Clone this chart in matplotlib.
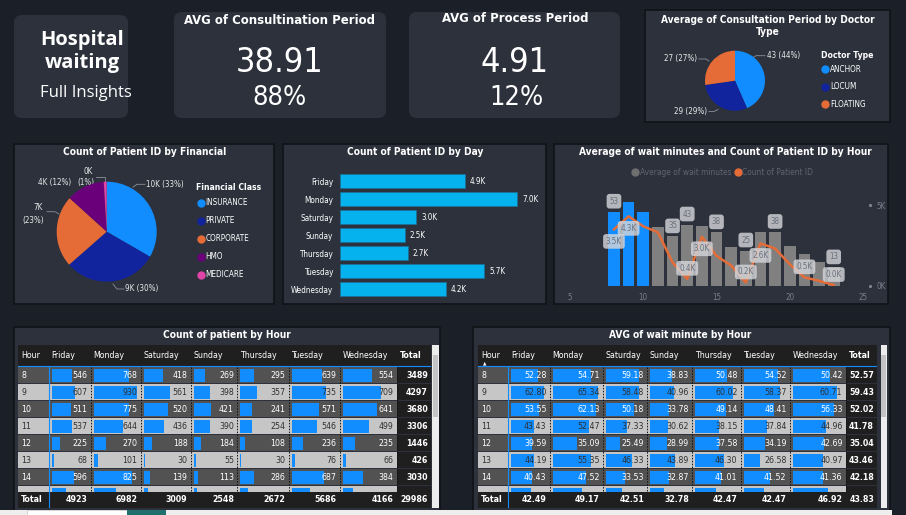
import matplotlib
matplotlib.use("Agg")
import matplotlib.pyplot as plt
from matplotlib.patches import FancyBboxPatch, Rectangle
import matplotlib.transforms as mtransforms

# ---------------- data ----------------
days = ["Friday", "Monday", "Saturday", "Sunday", "Thursday", "Tuesday", "Wednesday"]
day_totals = [4923, 6982, 3009, 2548, 2672, 5686, 4166]
grand_total = 29986

table_hours = [8, 9, 10, 11, 12, 13, 14, 15]
count_rows = [
    [546, 768, 418, 269, 295, 639, 554],
    [607, 930, 561, 398, 357, 735, 709],
    [511, 775, 520, 421, 241, 571, 641],
    [537, 644, 436, 390, 254, 546, 499],
    [225, 270, 188, 184, 108, 236, 235],
    [68, 101, 30, 55, 30, 76, 66],
    [596, 825, 139, 113, 286, 687, 384],
    [370, 486, 95, 80, 165, 400, 200],
]
wait_rows = [
    [52.28, 54.71, 59.18, 38.83, 50.48, 54.52, 50.42],
    [62.80, 65.34, 58.48, 40.96, 60.02, 58.37, 60.71],
    [53.55, 62.13, 50.18, 33.78, 49.14, 48.41, 56.33],
    [43.43, 52.47, 37.33, 30.62, 38.15, 37.84, 44.96],
    [39.59, 35.09, 25.49, 28.99, 37.58, 34.19, 42.69],
    [44.19, 55.35, 46.33, 43.89, 46.30, 26.58, 40.97],
    [40.43, 47.52, 33.53, 32.87, 41.01, 41.52, 41.36],
    [37.6, 42.8, 29.5, 23.7, 34.0, 33.0, 48.6],
]
wait_row_totals = [52.57, 59.43, 52.02, 41.78, 35.04, 43.46, 42.18, 37.9]
wait_col_totals = [42.49, 49.17, 42.51, 32.78, 42.47, 42.47, 46.92]
wait_grand = 43.83

hours = list(range(8, 24))
avg_wait = [52.57, 59.43, 52.02, 41.78, 35.04, 43.46, 42.18, 37.9,
            27.7, 25.0, 38.1, 38.2, 28.2, 22.3, 16.8, 13.0]
patients = [3489, 4297, 3680, 3306, 1446, 426, 3030, 1850,
            1250, 200, 2620, 2300, 1330, 520, 300, 40]
highlight_hours = [8, 9, 10]
bar_label_hours = [8, 12, 13, 15, 17, 19, 23]
line_label_hours = [8, 9, 13, 14, 17, 18, 21, 23]
line_label_side = [-1, -1, 1, -1, 1, -1, 1, 1]

fin_classes = ["INSURANCE", "PRIVATE", "CORPORATE", "HMO", "MEDICARE"]
fin_counts = [10000, 9050, 6950, 3700, 286]

doc_types = ["ANCHOR", "LOCUM", "FLOATING"]
doc_avg = [43, 29, 27]
doc_pct = [44, 29, 27]

# ---------------- style ----------------
W, H = 906, 515
BG = "#1b2028"
CARD = "#2c313c"
EDGE = "#101318"
BLUE = "#118DFF"
NAVY = "#12239E"
ORANGE = "#E66C37"
PURPLE = "#6B007B"
PINK = "#E044A7"
CYAN = "#05B2EE"
DARKROW = "#525252"
LIGHTROW = "#c6c6c6"
BLACK = "#201f1f"
DIM = "#7a808b"
TITLE_FS = 7.3

plt.rcParams["font.family"] = "DejaVu Sans"
plt.rcParams["font.stretch"] = "condensed"

fig = plt.figure(figsize=(W / 100, H / 100), dpi=100, facecolor=BG)
base = fig.add_axes([0, 0, 1, 1])
base.set_xlim(0, W)
base.set_ylim(H, 0)
base.axis("off")


def px_axes(x0, y0, x1, y1):
    ax = fig.add_axes([x0 / W, 1 - y1 / H, (x1 - x0) / W, (y1 - y0) / H])
    ax.patch.set_alpha(0)
    return ax


def card(x0, y0, x1, y1, r=0, ec=EDGE):
    if r:
        p = FancyBboxPatch((x0, y0), x1 - x0, y1 - y0,
                           boxstyle=f"round,pad=0,rounding_size={r}",
                           fc=CARD, ec="none")
    else:
        p = Rectangle((x0, y0), x1 - x0, y1 - y0, fc=CARD, ec=ec, lw=1.2)
    base.add_patch(p)


def txt(x, y, s, size, **kw):
    kw.setdefault("color", "white")
    kw.setdefault("ha", "center")
    kw.setdefault("va", "center")
    base.text(x, y, s, fontsize=size, **kw)


# ---------------- row 1 cards ----------------
card(14, 15, 128, 118, r=8)
txt(82, 40, "Hospital", 14.5, weight="bold", family="Open Sans", stretch="normal")
txt(82, 63, "waiting", 14.5, weight="bold", family="Open Sans", stretch="normal")
txt(86, 93, "Full Insights", 12, family="Open Sans", stretch="normal")

card(174, 12, 386, 118, r=8)
txt(280, 20, "AVG of Consultination Period", 9.4, weight="bold")
txt(280, 63, "38.91", 24.6)
txt(280, 98, "88%", 19.5)

card(409, 12, 620, 118, r=8)
txt(515, 19, "AVG of Process Period", 9.4, weight="bold")
txt(515, 63, "4.91", 24.6)
txt(516, 98, "12%", 19.5)

# doctor type pie
card(645, 10, 890, 122)
txt(768, 20, "Average of Consultation Period by Doctor", TITLE_FS, weight="bold")
txt(768, 32, "Type", TITLE_FS, weight="bold")
ax = px_axes(705, 50.7, 765, 110.7)
ax.pie(doc_avg, colors=[BLUE, NAVY, ORANGE], startangle=90, counterclock=False,
       wedgeprops=dict(linewidth=0))
ax.set_xlim(-1, 1)
ax.set_ylim(-1, 1)
doc_lab_pos = [(767, 55.7, "left"), (707, 111.5, "right"), (697, 59, "right")]
doc_leaders = [[(752, 58), (756, 55.7), (765, 55.7)],
               [(718, 109.5), (714, 111.5), (709, 111.5)],
               [(709, 61), (706, 59), (699, 59)]]
for (x, y, ha), v, p, ld in zip(doc_lab_pos, doc_avg, doc_pct, doc_leaders):
    txt(x, y, f"{v} ({p}%)", 5.8, ha=ha, color="#e8e8e8")
    base.plot(*zip(*ld), color="#8a8f99", lw=0.6)
txt(821, 55, "Doctor Type", 6.2, weight="bold", ha="left")
for i, (name, c) in enumerate(zip(doc_types, [BLUE, NAVY, ORANGE])):
    base.plot(825, 69.3 + i * 17.5, "o", ms=5, color=c)
    txt(830, 69.3 + i * 17.5, name, 5.9, ha="left")

# ---------------- row 2 ----------------
# financial pie
card(14, 144, 274, 304)
txt(145, 152.3, "Count of Patient ID by Financial", TITLE_FS, weight="bold")
fin_colors = [BLUE, NAVY, ORANGE, PURPLE, PINK]
ax = px_axes(56.7, 181.7, 156.7, 281.7)
ax.pie(fin_counts, colors=fin_colors, startangle=90, counterclock=False,
       wedgeprops=dict(linewidth=0))
ax.set_xlim(-1, 1)
ax.set_ylim(-1, 1)
tot = sum(fin_counts)
fk = [f"{v / 1000:.0f}K" for v in fin_counts]
fp = [f"({v / tot * 100:.0f}%)" for v in fin_counts]
lc = "#e8e8e8"
lfs = 5.8
txt(146, 184.3, f"{fk[0]} {fp[0]}", lfs, ha="left", color=lc)
base.plot([133, 137, 145], [187, 184.3, 184.3], color="#8a8f99", lw=0.6)
txt(125, 289, f"{fk[1]} {fp[1]}", lfs, ha="left", color=lc)
base.plot([113, 117, 124], [284, 289, 289], color="#8a8f99", lw=0.6)
txt(38, 207.7, fk[2], lfs, color=lc)
txt(33, 220, fp[2], lfs, color=lc)
base.plot([47, 55, 59], [211.7, 211.7, 214], color="#8a8f99", lw=0.6)
txt(71, 182.7, f"{fk[3]} {fp[3]}", lfs, ha="right", color=lc)
txt(88, 171.7, fk[4], lfs, color=lc)
txt(86, 182.7, fp[4], lfs, color=lc)
base.plot([96, 105, 105], [176.7, 176.7, 181.5], color="#8a8f99", lw=0.6)
txt(196.5, 187.7, "Financial Class", 6.2, weight="bold", ha="left")
for i, (name, c) in enumerate(zip(fin_classes, fin_colors)):
    y = 202.7 + i * 18
    base.plot(200.7, y, "o", ms=5, color=c)
    txt(205.5, y, name, 5.9, ha="left")

# day bar chart
card(283, 144, 546, 304)
txt(415, 152.3, "Count of Patient ID by Day", TITLE_FS, weight="bold")
ax = px_axes(340, 172.3, 540, 298)
ax.barh(range(len(days)), day_totals, height=0.78, color=CYAN,
        edgecolor="#1a6f95", linewidth=0.6)
ax.set_ylim(len(days) - 0.5, -0.5)
ax.set_xlim(0, 7874)
ax.set_yticks(range(len(days)))
ax.set_yticklabels(days, color="white", fontsize=5.9)
ax.tick_params(axis="y", length=0, pad=5)
ax.set_xticks([])
for s in ax.spines.values():
    s.set_visible(False)
for i, v in enumerate(day_totals):
    ax.text(v + 200, i, f"{v / 1000:.1f}K", va="center", ha="left",
            color="white", fontsize=5.8)

# combo chart
card(554, 144, 888, 304)
txt(725, 152.3, "Average of wait minutes and Count of Patient ID by Hour", TITLE_FS, weight="bold")
base.plot(635, 172.3, "o", ms=5, color="#6f6f6f")
txt(640, 172.3, "Average of wait minutes", 6.0, ha="left", color="#5f6570")
base.plot(737.7, 172.3, "o", ms=5, color=ORANGE)
txt(742.5, 172.3, "Count of Patient ID", 6.0, ha="left", color="#5f6570")

ax = px_axes(570, 190, 863, 285.7)
bar_cols = [BLUE if h in highlight_hours else "#808080" for h in hours]
ax.bar(hours, avg_wait, width=0.8, color=bar_cols)
ax.set_xlim(5, 25)
ax.set_ylim(0, 68)
ax.set_xticks([5, 10, 15, 20, 25])
ax.tick_params(axis="x", length=0, colors=DIM, labelsize=5.8, pad=5)
ax.set_yticks([])
for s in ax.spines.values():
    s.set_visible(False)
box = dict(boxstyle="round,pad=0.35,rounding_size=0.35", fc="#d3d5d9", ec="none", alpha=0.82)
for h in bar_label_hours:
    v = avg_wait[hours.index(h)]
    ax.text(h, v + 10.5 / 1.408, f"{v:.0f}", ha="center", va="center",
            fontsize=5.8, color="#6b707a", bbox=box, zorder=4)
ax2 = ax.twinx()
ax2.patch.set_alpha(0)
ax2.plot(hours, patients, color=ORANGE, lw=1.8, zorder=2)
ax2.set_ylim(0, 5930)
ax2.set_yticks([0, 5000])
ax2.set_yticklabels(["0K", "5K"])
ax2.tick_params(axis="y", length=0, colors=DIM, labelsize=5.8, pad=10)
tr = mtransforms.blended_transform_factory(ax2.transAxes, ax2.transData)
ax2.plot([1.025, 1.025], [0, 5000], ls="none", marker="s", ms=1.2, color=DIM,
         transform=tr, clip_on=False)
for s in ax2.spines.values():
    s.set_visible(False)
for h, side in zip(line_label_hours, line_label_side):
    v = patients[hours.index(h)]
    off = 10.5 if side > 0 else -12
    ax2.text(h, v + off * 5930 / 95.7, f"{v / 1000:.1f}K", ha="center", va="center",
             fontsize=5.8, color="#6b707a", bbox=box, zorder=5)


# ---------------- tables ----------------
def draw_table(x_edges, panel, title, title_x, rows, row_tot, col_tot, grand,
               fmt, vmax, scroll, arrow=False):
    card(*panel)
    txt(title_x, 335, title, TITLE_FS, weight="bold")
    ax = px_axes(x_edges[0], 345, x_edges[-1], 508)
    ax.set_xlim(x_edges[0], x_edges[-1])
    ax.set_ylim(508, 345)
    ax.axis("off")
    top, rh, tot_top = 367, 17, 491.5
    fs = 6.3
    # header
    ax.add_patch(Rectangle((x_edges[0], 345), x_edges[-1] - x_edges[0], 21, fc=BLACK, zorder=1))
    heads = ["Hour"] + days + ["Total"]
    for j, hname in enumerate(heads):
        ax.text(x_edges[j] + 3, 355, hname, color="white", fontsize=fs, va="center",
                weight="bold" if hname == "Total" else "normal", zorder=3)
    if arrow:
        ax.text(x_edges[0] + 7, 363.3, "\u25b2", color="white", fontsize=3.5,
                ha="center", va="center", zorder=3)
    # body (last row is only partly visible under the total row)
    for i, (h, row) in enumerate(zip(table_hours, rows)):
        y0 = top + i * rh
        dark = i % 2 == 0
        partial = y0 + rh > tot_top
        tc = "white" if dark else "#303030"
        ax.add_patch(Rectangle((x_edges[0], y0), x_edges[-2] - x_edges[0], rh - 0.7,
                               fc=DARKROW if dark else LIGHTROW, zorder=1))
        ax.add_patch(Rectangle((x_edges[-2], y0), x_edges[-1] - x_edges[-2], rh - 0.7,
                               fc=BLACK, zorder=1))
        for j, v in enumerate(row):
            c0, c1 = x_edges[j + 1] + 3, x_edges[j + 2] - 3
            ax.barh(y0 + rh / 2, (c1 - c0) * v / vmax, left=c0, height=12.5,
                    color=BLUE, zorder=2)
            if not partial:
                ax.text(c1, y0 + rh / 2, fmt(v), color=tc, fontsize=fs, va="center",
                        ha="right", zorder=3)
        if not partial:
            ax.text(x_edges[0] + 3, y0 + rh / 2, str(h), color=tc, fontsize=fs,
                    va="center", zorder=3)
            ax.text(x_edges[-1] - 3, y0 + rh / 2, fmt(row_tot[i]), color="white",
                    fontsize=fs, va="center", ha="right", weight="bold", zorder=3)
    for xe in x_edges[1:-1]:
        ax.plot([xe, xe], [top, tot_top], color="#111111", lw=0.7, ls=(0, (1.5, 1.5)), zorder=2.5)
    # total row
    ax.add_patch(Rectangle((x_edges[0], tot_top), x_edges[-1] - x_edges[0], 508 - tot_top,
                           fc=BLACK, zorder=5))
    ax.text(x_edges[0] + 3, 500, "Total", color="white", fontsize=fs, va="center",
            weight="bold", zorder=6)
    for j, v in enumerate(col_tot + [grand]):
        ax.text(x_edges[j + 2] - 3, 500, fmt(v), color="white", fontsize=fs, va="center",
                ha="right", weight="bold", zorder=6)
    ax.plot([x_edges[0], x_edges[-1]], [366, 366], color=BLUE, lw=0.8, zorder=6)
    ax.plot([x_edges[1], x_edges[1]], [366, 508], color=BLUE, lw=0.8, zorder=6)
    # scrollbar
    base.add_patch(Rectangle((scroll, 345), 6.5, 163, fc="#ededed", ec="none"))
    base.add_patch(Rectangle((scroll + 0.8, 355), 4.9, 62, fc="#c4c4c4", ec="none"))


t1_edges = [18, 48.5, 90.5, 140.5, 190.5, 237, 288.5, 339.5, 396.5, 431]
count_tot = [sum(r) for r in count_rows]
draw_table(t1_edges, (14, 327, 440, 511), "Count of patient by Hour", 227,
           count_rows, count_tot, day_totals, grand_total, lambda v: f"{v}",
           max(max(r) for r in count_rows) * 1.02, 432)

t2_edges = [478, 508, 549.5, 603, 647, 692, 740.5, 789.5, 845.5, 877]
draw_table(t2_edges, (473, 327, 890, 511), "AVG of wait minute by Hour", 680,
           wait_rows, wait_row_totals, wait_col_totals, wait_grand, lambda v: f"{v:.2f}",
           max(max(r) for r in wait_rows) * 1.04, 880.5, arrow=True)

# bottom page-tab strip
base.add_patch(Rectangle((0, 509.5), 892, 6, fc="#eeeeee", ec="none"))
base.add_patch(Rectangle((27, 509.5), 100, 6, fc="white", ec="#d0d0d0", lw=0.6))
base.add_patch(Rectangle((127, 509.5), 39, 6, fc="#1f6f6d", ec="none"))

fig.savefig("out.png", dpi=100, facecolor=BG)
